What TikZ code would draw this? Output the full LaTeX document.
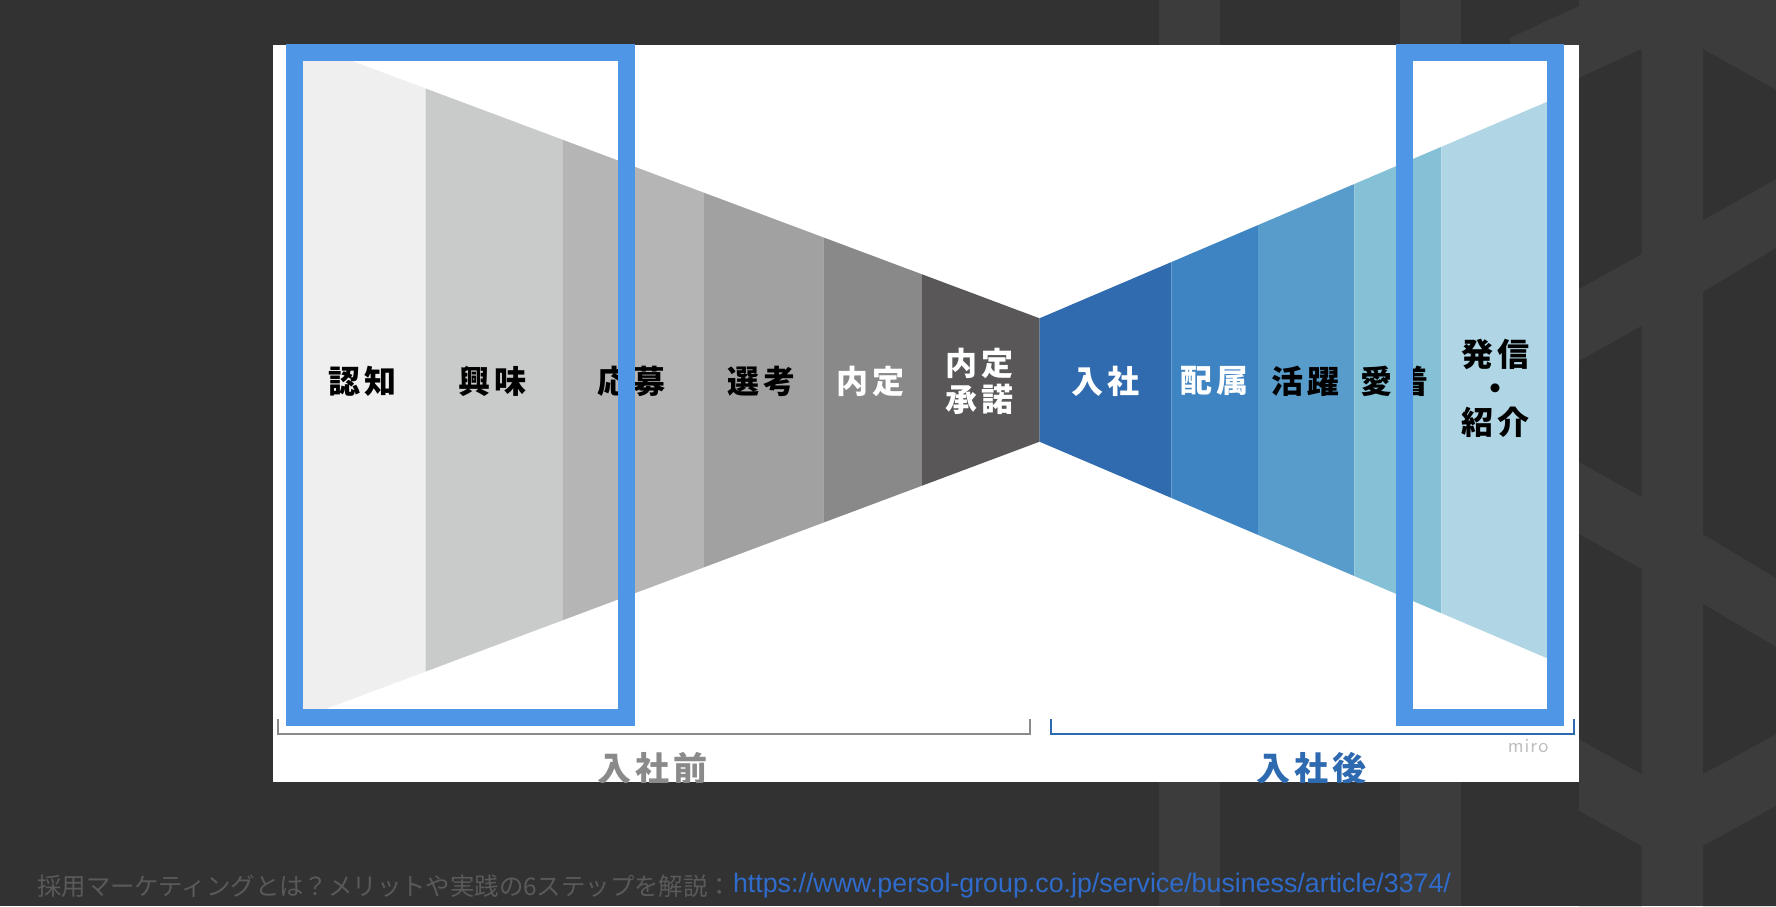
\documentclass[tikz,border=0pt]{standalone}
\usepackage{fontspec}
\newfontfamily\jp{Noto Sans CJK JP}
\newfontfamily\urlfont{Liberation Sans}
\newcommand\ks{\kern2pt}
\definecolor{bgdark}{HTML}{323232}
\definecolor{bgpat}{HTML}{3C3C3C}
\definecolor{frameblue}{HTML}{4F97E6}
\definecolor{gA}{HTML}{EFEFEF}
\definecolor{gB}{HTML}{C9CBCA}
\definecolor{gC}{HTML}{B5B5B5}
\definecolor{gD}{HTML}{A0A1A0}
\definecolor{gE}{HTML}{898989}
\definecolor{gF}{HTML}{595758}
\definecolor{bA}{HTML}{2F6BAE}
\definecolor{bB}{HTML}{3F84C2}
\definecolor{bC}{HTML}{589CCB}
\definecolor{bD}{HTML}{84C0D6}
\definecolor{bE}{HTML}{B0D5E4}
\definecolor{brgray}{HTML}{8A8A8A}
\definecolor{brblue}{HTML}{2E6AB0}
\definecolor{capgray}{HTML}{5A5A5A}
\definecolor{capblue}{HTML}{2F6BCB}
\definecolor{mirogray}{HTML}{BDBDBD}
\tikzset{
  pat/.style={fill=bgpat},
  cell/.style={fill=bgdark},
  lab/.style={font=\jp\bfseries\fontsize{16}{18}\selectfont, text=black, inner sep=0pt, align=center},
  labw/.style={lab, text=white},
  frame/.style={draw=frameblue, line width=8.5pt},
  phase/.style={font=\jp\bfseries\fontsize{17}{18}\selectfont, inner sep=0pt},
}
\begin{document}
\begin{tikzpicture}[x=0.5pt,y=-0.5pt]
\useasboundingbox (0,0) rectangle (1776,906);
\fill[bgdark] (0,0) rectangle (1776,906);
% background pattern
\fill[pat] (1159,0) rectangle (1220,906);
\fill[pat] (1400,0) rectangle (1461,906);
\fill[pat] (1579,0) rectangle (1776,906);
\fill[pat] (1510,38) -- (1579,6) -- (1579,50) -- (1510,50) -- cycle;
\fill[cell] (1579,78) -- (1641.7,49) -- (1641.7,254) -- (1579,289) -- cycle;
\fill[cell] (1579,361) -- (1641.7,326) -- (1641.7,497) -- (1579,462) -- cycle;
\fill[cell] (1579,534) -- (1641.7,569) -- (1641.7,774) -- (1579,739) -- cycle;
\fill[cell] (1579,811) -- (1641.7,846) -- (1641.7,906) -- (1579,906) -- cycle;
\fill[cell] (1703,49) -- (1776,90) -- (1776,179) -- (1703,220) -- cycle;
\fill[cell] (1703,292) -- (1776,248) -- (1776,578) -- (1703,534) -- cycle;
\fill[cell] (1703,604) -- (1776,647) -- (1776,734) -- (1703,774) -- cycle;
\fill[cell] (1703,846) -- (1776,806) -- (1776,906) -- (1703,906) -- cycle;
% panel
\fill[white] (273,45) rectangle (1579,782);
\begin{scope}
\clip (273,45) rectangle (1579,782);
% left funnel bands
\fill[gA] (290,37.7) -- (425.7,88.5) -- (425.7,671.5) -- (290,722.3) -- cycle;
\fill[gB] (425.7,88.5) -- (562.8,139.8) -- (562.8,620.2) -- (425.7,671.5) -- cycle;
\fill[gC] (562.8,139.8) -- (704.2,192.8) -- (704.2,567.2) -- (562.8,620.2) -- cycle;
\fill[gD] (704.2,192.8) -- (823.4,237.4) -- (823.4,522.6) -- (704.2,567.2) -- cycle;
\fill[gE] (823.4,237.4) -- (922,274.3) -- (922,485.7) -- (823.4,522.6) -- cycle;
\fill[gF] (922,274.3) -- (1039.5,318.3) -- (1039.5,441.7) -- (922,485.7) -- cycle;
% right funnel bands
\fill[bA] (1039.5,318.3) -- (1171.3,262.1) -- (1171.3,497.9) -- (1039.5,441.7) -- cycle;
\fill[bB] (1171.3,262.1) -- (1258,225.1) -- (1258,534.9) -- (1171.3,497.9) -- cycle;
\fill[bC] (1258,225.1) -- (1354.3,184.0) -- (1354.3,576.0) -- (1258,534.9) -- cycle;
\fill[bD] (1354.3,184.0) -- (1441.4,146.8) -- (1441.4,613.2) -- (1354.3,576.0) -- cycle;
\fill[bE] (1441.4,146.8) -- (1556,98.0) -- (1556,662.0) -- (1441.4,613.2) -- cycle;
% stage labels
\node[lab] (s1) at (362,381) {認\ks 知};
\node[lab] (s2) at (492,381) {興\ks 味};
\node[lab] (s3) at (631,381) {応\ks 募};
\node[lab] (s4) at (761,381) {選\ks 考};
\node[labw] (s5) at (870,381) {内\ks 定};
\node[labw] (s6) at (979,381) {内\ks 定\\承\ks 諾};
\node[labw] (s7) at (1105,381) {入\ks 社};
\node[labw] (s8) at (1214,381) {配\ks 属};
\node[lab] (s9) at (1305,381) {活\ks 躍};
\node[lab] (s10) at (1394,381) {愛\ks 着};
\node[lab, font=\jp\bfseries\fontsize{16}{17}\selectfont] (s11) at (1495,388) {発\ks 信\\・\\紹\ks 介};
% phase labels
\node[phase, text=brgray] (pre) at (652.5,769) {入\ks 社\ks 前};
\node[phase, text=brblue] (post) at (1311.5,769) {入\ks 社\ks 後};
\end{scope}
% highlight frames
\draw[frame] (294.5,52.5) rectangle (626.5,717.5);
\draw[frame] (1404.5,52.5) rectangle (1555,717.5);
% brackets
\draw[brgray, line width=1pt] (277.5,719) |- (1029.5,734) -- (1029.5,719);
\draw[brblue, line width=1pt] (1051,719) |- (1574,734) -- (1574,719);
\node[font=\sffamily\fontsize{10}{11}\selectfont, text=mirogray, inner sep=0pt] (miro) at (1528,746) {m\kern0.5pt i\kern0.5pt r\kern0.5pt o};
% caption
\node[anchor=west, inner sep=0pt, text=capgray, font=\jp\fontsize{12.2}{14}\selectfont] (cap) at (37,886) {採用マーケティングとは？メリットや実践の6ステップを解説：};
\node[anchor=west, inner sep=0pt, text=capblue, font=\urlfont\fontsize{13.4}{15}\selectfont] (url) at (cap.east) {https://www.persol-group.co.jp/service/business/article/3374/};
\end{tikzpicture}
\end{document}
